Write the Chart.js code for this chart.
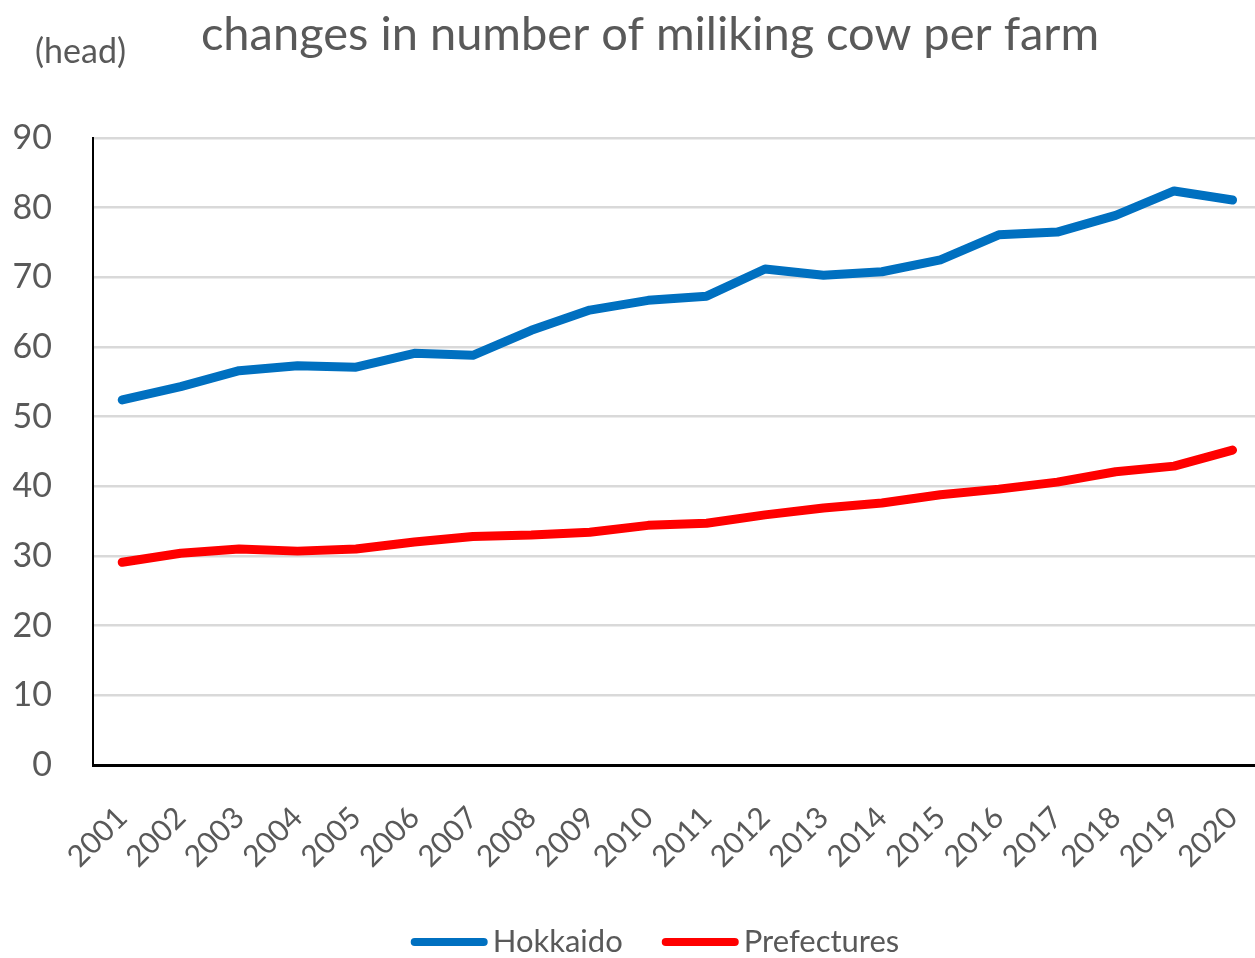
<!DOCTYPE html>
<html>
<head>
<meta charset="utf-8">
<script src="https://cdn.jsdelivr.net/npm/chart.js@4/dist/chart.umd.min.js"></script>
<style>
  html, body { margin:0; padding:0; background:#fff; overflow:hidden; }
  #wrap { width:1255px; height:958px; overflow:hidden; }
</style>
</head>
<body>
<div id="wrap"><canvas id="chart" width="1285" height="958"></canvas></div>
<script>
/* ==== Data ==== */
const years = ['2001','2002','2003','2004','2005','2006','2007','2008','2009','2010',
               '2011','2012','2013','2014','2015','2016','2017','2018','2019','2020'];
const hokkaido = [52.4, 54.3, 56.6, 57.3, 57.1, 59.1, 58.8, 62.4, 65.3, 66.7,
                  67.3, 71.2, 70.3, 70.8, 72.5, 76.1, 76.5, 78.9, 82.4, 81.1];
const prefectures = [29.1, 30.4, 31.0, 30.7, 31.0, 32.0, 32.8, 33.0, 33.4, 34.4,
                     34.7, 35.9, 36.9, 37.6, 38.8, 39.6, 40.6, 42.1, 42.9, 45.2];
const yTicks = { min: 0, max: 90, step: 10 };

const FONT = "Lato, 'Open Sans', sans-serif";
const GREY = '#595959';

/* ==== title + "(head)" unit label ==== */
const headerText = {
  id: 'headerText',
  afterDraw(chart){
    const ctx = chart.ctx;
    ctx.save();
    ctx.fillStyle = GREY;
    ctx.textBaseline = 'alphabetic';
    ctx.textAlign = 'center';
    ctx.font = `47px ${FONT}`;
    ctx.fillText('changes in number of miliking cow per farm', 650, 50);
    ctx.textAlign = 'left';
    ctx.font = `34px ${FONT}`;
    ctx.fillText('(head)', 35, 63);
    ctx.restore();
  }
};

/* ==== legend: line swatch tight against its label, Excel style ==== */
const bottomLegend = {
  id: 'bottomLegend',
  afterDraw(chart){
    const ctx = chart.ctx;
    const sets = chart.data.datasets;
    const lineW = 77, textGap = 5, itemGap = 39, cy = 942;
    ctx.save();
    ctx.font = `31px ${FONT}`;
    const widths = sets.map(ds => lineW + textGap + ctx.measureText(ds.label).width);
    const total = widths.reduce((a, b) => a + b, 0) + itemGap * (sets.length - 1);
    let x = 655 - total / 2;
    sets.forEach((ds, i) => {
      ctx.strokeStyle = ds.borderColor;
      ctx.lineWidth = 8;
      ctx.lineCap = 'round';
      ctx.beginPath();
      ctx.moveTo(x + 4, cy);
      ctx.lineTo(x + lineW - 4, cy);
      ctx.stroke();
      ctx.fillStyle = GREY;
      ctx.textBaseline = 'middle';
      ctx.textAlign = 'left';
      ctx.fillText(ds.label, x + lineW + textGap, cy);
      x += widths[i] + itemGap;
    });
    ctx.restore();
  }
};

const ctx = document.getElementById('chart').getContext('2d');
new Chart(ctx, {
  type: 'line',
  data: {
    labels: years,
    datasets: [
      { label: 'Hokkaido', data: hokkaido, borderColor: '#0070c0', backgroundColor: '#0070c0',
        borderWidth: 9, pointRadius: 0, tension: 0, borderCapStyle: 'round', borderJoinStyle: 'round' },
      { label: 'Prefectures', data: prefectures, borderColor: '#ff0000', backgroundColor: '#ff0000',
        borderWidth: 9, pointRadius: 0, tension: 0, borderCapStyle: 'round', borderJoinStyle: 'round' }
    ]
  },
  options: {
    responsive: false,
    animation: false,
    layout: { padding: { left: 0, right: 0, top: 138, bottom: 0 } },
    plugins: {
      title: { display: false },
      legend: { display: false },
      tooltip: { enabled: false }
    },
    scales: {
      x: {
        offset: true,
        grid: { display: false },
        border: { display: true, color: '#000', width: 3 },
        ticks: {
          color: GREY, font: { family: FONT, size: 30 },
          maxRotation: 45, minRotation: 45, padding: 27, autoSkip: false
        },
        afterFit(scale){ scale.height = 193; }
      },
      y: {
        min: yTicks.min, max: yTicks.max,
        grid: { color: '#d9d9d9', lineWidth: 2.5, drawTicks: false },
        border: { display: true, color: '#000', width: 2 },
        ticks: { stepSize: yTicks.step, color: GREY, font: { family: FONT, size: 34 }, padding: 41 },
        afterFit(scale){ scale.width = 93; }
      }
    }
  },
  plugins: [headerText, bottomLegend]
});
</script>
</body>
</html>
